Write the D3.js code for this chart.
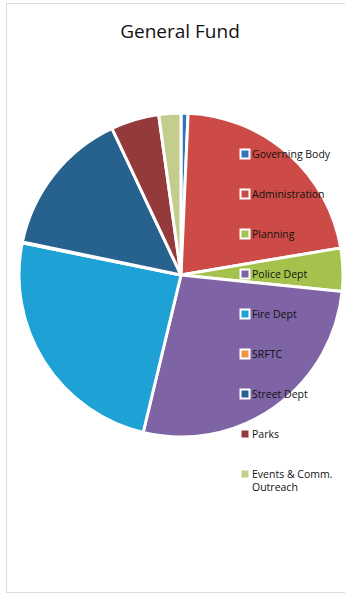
<!DOCTYPE html>
<html>
<head>
<meta charset="utf-8">
<script src="https://cdn.jsdelivr.net/npm/d3@7"></script>
<style>
  body { margin: 0; background: #fff; }
  text { font-family: "Open Sans", "Liberation Sans", sans-serif; }
</style>
</head>
<body>
<div class="fund-pie-container"></div>
<script>
// Data
const categories = ['Governing Body', 'Administration', 'Planning', 'Police Dept', 'Fire Dept',
    'SRFTC', 'Street Dept', 'Parks', 'Events & Comm. Outreach']
const shares = [0.7, 21.6, 4.3, 27.1, 24.4, 0.1, 14.7, 4.8, 2.2]
const sliceColors = ['#2E75BE', '#CD4B47', '#A5C34C', '#7E64A5', '#1EA2D5',
    '#F0963E', '#27628F', '#953A3B', '#C4CC8E']
// legend text, split the way the chart wraps it
const legendLines = [['Governing Body'], ['Administration'], ['Planning'], ['Police Dept'], ['Fire Dept'],
    ['SRFTC'], ['Street Dept'], ['Parks'], ['Events & Comm.', 'Outreach']]

let pie_dimensions = {
    width: 345,
    height: 595,
    cx: 181,
    cy: 275,
    radius: 162
}

const fund_pie = d3.select(".fund-pie-container")
    .append('svg')
    .attr('width', pie_dimensions.width)
    .attr('height', pie_dimensions.height)

function drawGeneralFund() {
    const data = categories.map((c, i) => ({ name: c, value: shares[i], lines: legendLines[i] }))

    const color = d3.scaleOrdinal()
        .domain(categories)
        .range(sliceColors)

// chart frame
    fund_pie.append('rect')
        .attr('x', 6.5)
        .attr('y', 3.5)
        .attr('width', 345)
        .attr('height', 589)
        .attr('fill', 'none')
        .attr('stroke', '#dcdcdc')

// Title
    fund_pie.append('text')
        .attr('x', 180)
        .attr('y', 38)
        .attr('font-size', '19px')
        .attr('fill', '#111')
        .attr('text-anchor', 'middle')
        .text('General Fund')

// Slices
    const pie = d3.pie().sort(null).value(d => d.value)
    const arc = d3.arc().innerRadius(0).outerRadius(pie_dimensions.radius)

    const container = fund_pie.append('g')
        .attr('transform', `translate(${pie_dimensions.cx},${pie_dimensions.cy})`)

    container.selectAll('path')
        .data(pie(data))
        .join('path')
        .attr('d', arc)
        .attr('fill', d => color(d.data.name))
        .attr('stroke', '#fff')
        .attr('stroke-width', 3)
        .attr('stroke-linejoin', 'round')

// Legend (sits on top of the pie)
    const legend = fund_pie.append('g')
        .attr('transform', 'translate(245, 154)')

    const rows = legend.selectAll('g')
        .data(data)
        .join('g')
        .attr('transform', (d, i) => `translate(0, ${i * 40})`)

    rows.append('rect')
        .attr('x', -4.5)
        .attr('y', -4.5)
        .attr('width', 9)
        .attr('height', 9)
        .attr('fill', d => color(d.name))
        .attr('stroke', '#fff')
        .attr('stroke-width', 2)

    rows.selectAll('text')
        .data(d => d.lines)
        .join('text')
        .attr('x', 7)
        .attr('y', (d, j) => 4 + j * 13)
        .attr('font-size', '10.5px')
        .attr('fill', '#111')
        .text(d => d)
}

drawGeneralFund()
</script>
</body>
</html>
